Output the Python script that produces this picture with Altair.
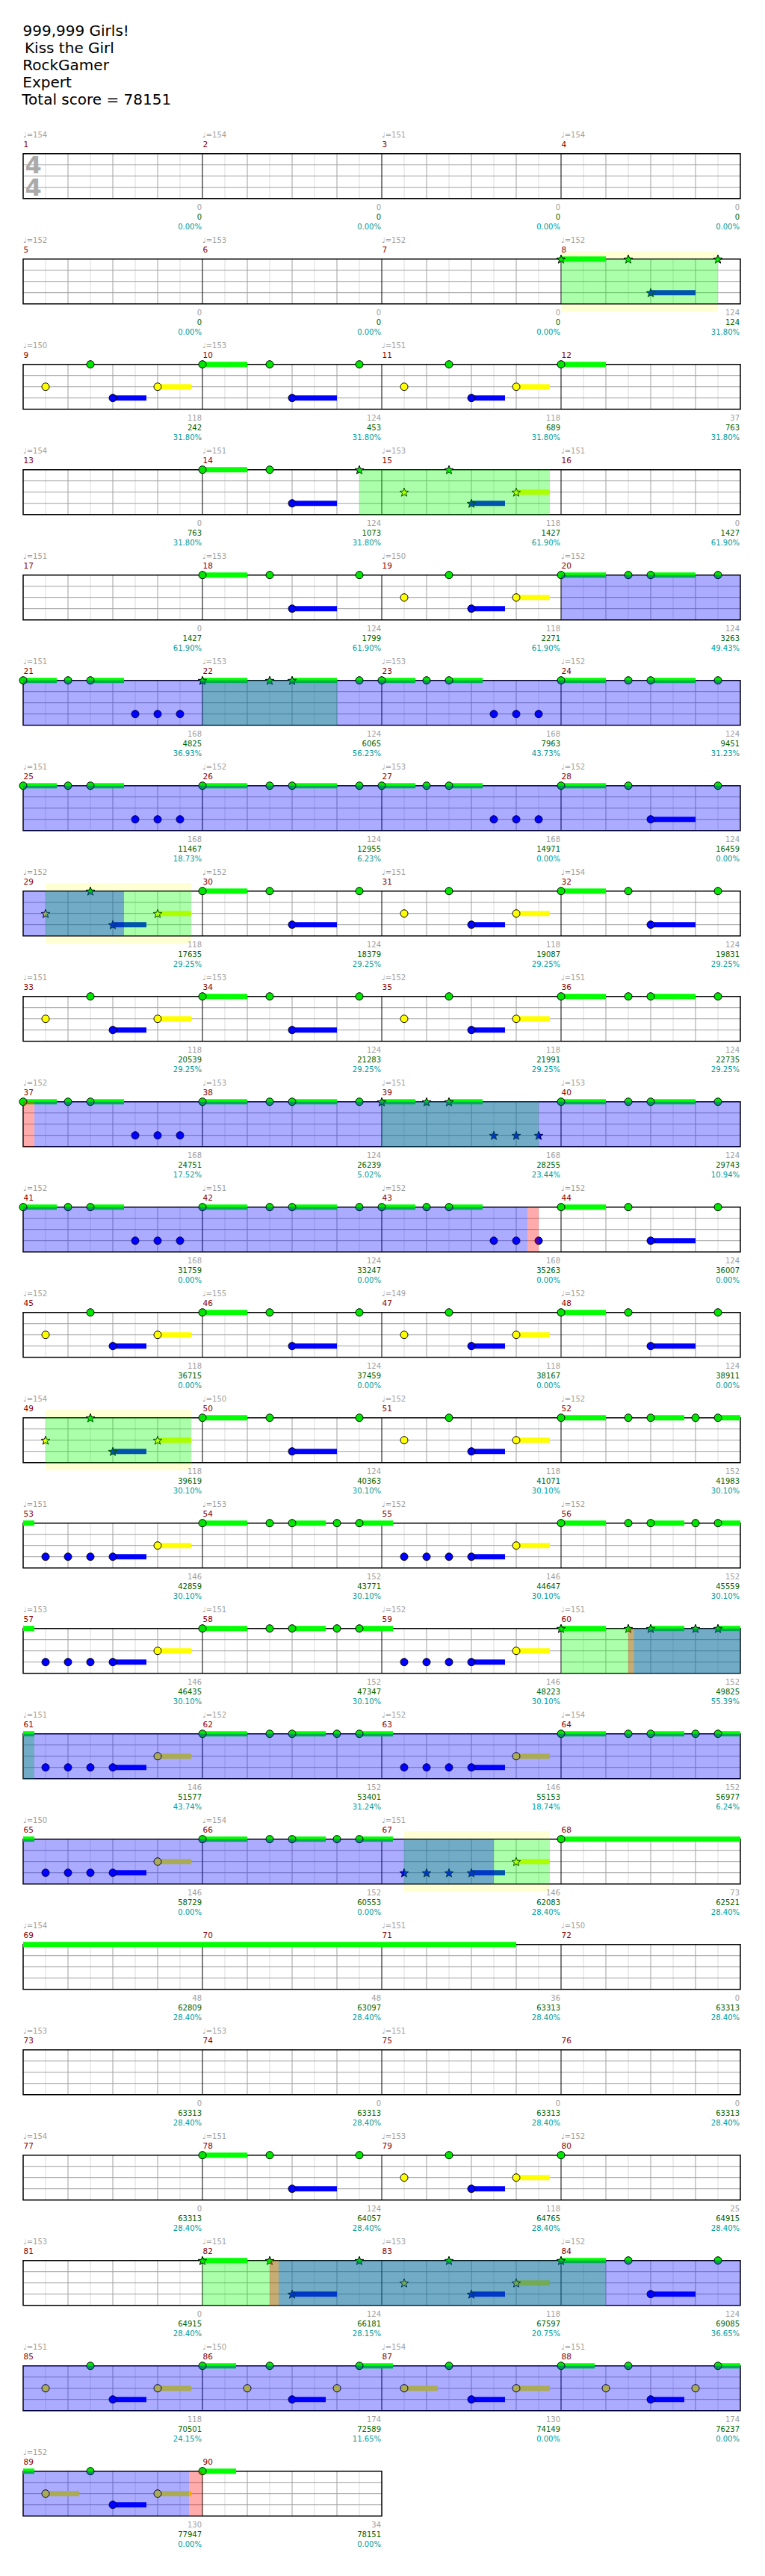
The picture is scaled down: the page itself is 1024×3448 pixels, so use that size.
import math
import altair as alt
import pandas as pd

# ---------------- data ----------------
TITLE_LINES = ["999,999 Girls!", "Kiss the Girl", "RockGamer", "Expert", "Total score = 78151"]
TITLE_DX_PX = [-0.5, 2.0, -0.7, -0.7, -1.7]

TEMPO = [154, 154, 151, 154, 152, 153, 152, 152, 150, 153, 151, None,
         154, 151, 153, 151, 151, 153, 150, 152, 151, 153, 153, 152,
         151, 152, 153, 152, 152, 152, 151, 154, 151, 153, 152, 151,
         152, 153, 151, 153, 152, 151, 152, 152, 152, 155, 149, 152,
         154, 150, 152, 152, 151, 153, 152, 152, 153, 151, 152, 151,
         151, 152, 152, 154, 150, 154, 151, None, 154, None, 151, 150,
         153, 153, 151, None, 154, 151, 153, 152, 153, 151, 153, 152,
         151, 150, 154, 151, 152, None]

MEASURE_SCORE = [0, 0, 0, 0, 0, 0, 0, 124, 118, 124, 118, 37,
                 0, 124, 118, 0, 0, 124, 118, 124, 168, 124, 168, 124,
                 168, 124, 168, 124, 118, 124, 118, 124, 118, 124, 118, 124,
                 168, 124, 168, 124, 168, 124, 168, 124, 118, 124, 118, 124,
                 118, 124, 118, 152, 146, 152, 146, 152, 146, 152, 146, 152,
                 146, 152, 146, 152, 146, 152, 146, 73, 48, 48, 36, 0,
                 0, 0, 0, 0, 0, 124, 118, 25, 0, 124, 118, 124,
                 118, 174, 130, 174, 130, 34]

TOTAL_SCORE = [0, 0, 0, 0, 0, 0, 0, 124, 242, 453, 689, 763,
               763, 1073, 1427, 1427, 1427, 1799, 2271, 3263, 4825, 6065, 7963, 9451,
               11467, 12955, 14971, 16459, 17635, 18379, 19087, 19831, 20539, 21283, 21991, 22735,
               24751, 26239, 28255, 29743, 31759, 33247, 35263, 36007, 36715, 37459, 38167, 38911,
               39619, 40363, 41071, 41983, 42859, 43771, 44647, 45559, 46435, 47347, 48223, 49825,
               51577, 53401, 55153, 56977, 58729, 60553, 62083, 62521, 62809, 63097, 63313, 63313,
               63313, 63313, 63313, 63313, 63313, 64057, 64765, 64915, 64915, 66181, 67597, 69085,
               70501, 72589, 74149, 76237, 77947, 78151]

METER = ["0.00%", "0.00%", "0.00%", "0.00%", "0.00%", "0.00%", "0.00%", "31.80%",
         "31.80%", "31.80%", "31.80%", "31.80%", "31.80%", "31.80%", "61.90%", "61.90%",
         "61.90%", "61.90%", "61.90%", "49.43%", "36.93%", "56.23%", "43.73%", "31.23%",
         "18.73%", "6.23%", "0.00%", "0.00%", "29.25%", "29.25%", "29.25%", "29.25%",
         "29.25%", "29.25%", "29.25%", "29.25%", "17.52%", "5.02%", "23.44%", "10.94%",
         "0.00%", "0.00%", "0.00%", "0.00%", "0.00%", "0.00%", "0.00%", "0.00%",
         "30.10%", "30.10%", "30.10%", "30.10%", "30.10%", "30.10%", "30.10%", "30.10%",
         "30.10%", "30.10%", "30.10%", "55.39%", "43.74%", "31.24%", "18.74%", "6.24%",
         "0.00%", "0.00%", "28.40%", "28.40%", "28.40%", "28.40%", "28.40%", "28.40%",
         "28.40%", "28.40%", "28.40%", "28.40%", "28.40%", "28.40%", "28.40%", "28.40%",
         "28.40%", "28.15%", "20.75%", "36.65%", "24.15%", "11.65%", "0.00%", "0.00%",
         "0.00%", "0.00%"]

# note patterns: (beat in measure, fret, sustain length in beats)
PA = [(0.5, "Y", 0), (1.5, "G", 0), (2, "B", 0.75), (3, "Y", 0.75)]
PB = [(0, "G", 1), (1.5, "G", 0), (2, "B", 1), (3.5, "G", 0)]
PC = [(0, "G", 1), (1.5, "G", 0), (2, "G", 1), (3.5, "G", 0)]
PD = [(0, "G", 0.75), (1, "G", 0), (1.5, "G", 0.75), (2.5, "B", 0), (3, "B", 0), (3.5, "B", 0)]
PE = [(0, "G", 1), (1.5, "G", 0), (2, "G", 0.75), (3, "G", 0), (3.5, "G", 0.75)]
PF = [(0.5, "B", 0), (1, "B", 0), (1.5, "B", 0), (2, "B", 0.75), (3, "Y", 0.75)]
PG = [(0, "G", 0.75), (1, "Y", 0), (1.5, "G", 0), (2, "B", 0.75), (3, "Y", 0), (3.5, "G", 0.75)]
PH = [(0.5, "Y", 0.75), (1.5, "G", 0), (2, "B", 0.75), (3, "Y", 0.75)]

MEASURE_NOTES = {
    8: PB, 9: PA, 10: PB, 11: PA, 12: [(0, "G", 1)],
    14: PB, 15: PA, 18: PB, 19: PA, 20: PC,
    21: PD, 22: PC, 23: PD, 24: PC, 25: PD, 26: PC, 27: PD, 28: PB,
    29: PA, 30: PB, 31: PA, 32: PB, 33: PA, 34: PB, 35: PA, 36: PC,
    37: PD, 38: PC, 39: PD, 40: PC, 41: PD, 42: PC, 43: PD, 44: PB,
    45: PA, 46: PB, 47: PA, 48: PB, 49: PA, 50: PB, 51: PA, 52: PE,
    53: PF, 54: PE, 55: PF, 56: PE, 57: PF, 58: PE, 59: PF, 60: PE,
    61: PF, 62: PE, 63: PF, 64: PE, 65: PF, 66: PE, 67: PF, 68: [(0, "G", 15)],
    78: PB, 79: PA, 80: [(0, "G", 0)], 82: PB, 83: PA, 84: PB,
    85: PA, 86: PG, 87: PH, 88: PG, 89: PH, 90: [(0, "G", 0.75)],
}

# star power phrases: (measure, beat) -> (measure, beat), framed?
PHRASES = [(8, 0, 8, 3.5, True), (14, 3.5, 15, 3.75, False), (22, 0, 22, 3, False),
           (29, 0.5, 29, 3.75, True), (39, 0, 39, 3.5, False), (49, 0.5, 49, 3.75, True),
           (60, 0, 61, 0.25, False), (67, 0.5, 67, 3.75, True), (82, 0, 84, 1, False)]
OVERDRIVE = [(20, 0, 29, 2.25), (37, 0.25, 43, 3.25), (60, 1.625, 67, 2.5), (82, 1.7, 89, 3.7)]
RED_ZONES = [(37, 0, 37, 0.25), (43, 3.25, 43, 3.5), (60, 1.5, 60, 1.625),
             (82, 1.5, 82, 1.7), (89, 3.7, 90, 0)]

N_MEASURES = 90

# ---------------- layout ----------------
H = 3420
ROW_STEP = 141
TOP0 = 197.7
LANE = 15
STAFF_H = 60
PX_BEAT = 60
LANE_OF = {"G": 0, "R": 1, "Y": 2, "B": 3, "O": 4}
NOTE_COL = {"G": "#00e600", "Y": "#ffff00", "B": "#0000ff"}
SUS_COL = {"G": "#00ff00", "Y": "#ffff00", "B": "#0000ff"}

# five-point star symbol in the unit box [-1, 1]
_pts = []
for k in range(10):
    rad = 1.0 if k % 2 == 0 else 0.42
    ang = math.radians(-90 + 36 * k)
    _pts.append(f"{rad * math.cos(ang):.3f},{rad * math.sin(ang) + 0.1:.3f}")
STAR_PATH = "M" + " L".join(_pts) + " Z"


def gbeat(m, b):
    return (m - 1) * 4 + b


def top(r):
    return TOP0 + r * ROW_STEP


def split_rows(g0, g1):
    out = []
    g = g0
    while g < g1 - 1e-9:
        r = int(g // 16)
        end = min(g1, (r + 1) * 16)
        out.append((r, g - 16 * r, end - 16 * r))
        g = end
    return out


n_rows = (N_MEASURES + 3) // 4

staff = []
half_lines, beat_lines, bar_lines, lane_lines = [], [], [], []
for r in range(n_rows):
    nm = min(4, N_MEASURES - 4 * r)
    nb = nm * 4
    t = top(r)
    staff.append({"x": 0, "x2": nb, "y": t, "y2": t + STAFF_H})
    for k in range(1, nb * 2):
        rec = {"x": k / 2, "y": t, "y2": t + STAFF_H}
        if k % 8 == 0:
            bar_lines.append(rec)
        elif k % 2 == 0:
            beat_lines.append(rec)
        else:
            half_lines.append(rec)
    for ln in (1, 2, 3):
        lane_lines.append({"x": 0, "x2": nb, "y": t + ln * LANE})
staff = pd.DataFrame(staff)

phr_g = [(gbeat(a, b), gbeat(c, d)) for a, b, c, d, _ in PHRASES]

notes, sustains = [], []
for m, pat in MEASURE_NOTES.items():
    for b, fret, sus in pat:
        g = gbeat(m, b)
        r = int(g // 16)
        y = top(r) + LANE_OF[fret] * LANE
        star = any(s - 1e-6 <= g <= e + 1e-6 for s, e in phr_g)
        notes.append({"x": g - 16 * r, "y": y, "fret": fret, "star": star})
        if sus > 0:
            for rr, a, e in split_rows(g, g + sus):
                yy = top(rr) + LANE_OF[fret] * LANE
                sustains.append({"x": a, "x2": e, "y": yy - 3.5, "y2": yy + 3.5,
                                 "fill": SUS_COL[fret]})
notes = pd.DataFrame(notes)
sustains = pd.DataFrame(sustains)


def zone_df(spans, pad=0.0):
    rows_ = []
    for g0, g1 in spans:
        for r, a, e in split_rows(g0, g1):
            rows_.append({"x": a, "x2": e, "y": top(r) - pad, "y2": top(r) + STAFF_H + pad})
    return pd.DataFrame(rows_)


frames = zone_df([(gbeat(a, b), gbeat(c, d)) for a, b, c, d, f in PHRASES if f], pad=10.5)
green_z = zone_df(phr_g)
blue_z = zone_df([(gbeat(a, b), gbeat(c, d)) for a, b, c, d in OVERDRIVE])
red_z = zone_df([(gbeat(a, b), gbeat(c, d)) for a, b, c, d in RED_ZONES])

tempo_t, num_t, lab_t = [], [], []
for i in range(N_MEASURES):
    m = i + 1
    r, c = i // 4, i % 4
    t = top(r)
    if TEMPO[i] is not None:
        tempo_t.append({"x": c * 4, "y": t - 24.7, "label": "\u2669=" + str(TEMPO[i])})
    num_t.append({"x": c * 4, "y": t - 11.7, "label": str(m)})
    lab_t.append({"x": c * 4 + 4, "y": t + 72.3, "label": str(MEASURE_SCORE[i]), "col": "#a0a0a0"})
    lab_t.append({"x": c * 4 + 4, "y": t + 85.3, "label": str(TOTAL_SCORE[i]), "col": "#006400"})
    lab_t.append({"x": c * 4 + 4, "y": t + 98.3, "label": METER[i], "col": "#009c9c"})
tempo_t = pd.DataFrame(tempo_t)
num_t = pd.DataFrame(num_t)
lab_t = pd.DataFrame(lab_t)

title_t = pd.DataFrame({"x": [d / PX_BEAT for d in TITLE_DX_PX],
                        "y": [33.8 + 23 * i for i in range(len(TITLE_LINES))],
                        "label": TITLE_LINES})
timesig = pd.DataFrame({"x": [13.5 / PX_BEAT] * 2, "y": [top(0) + LANE, top(0) + 3 * LANE],
                        "label": ["4", "4"]})

# ---------------- chart ----------------
xs = alt.Scale(domain=[0, 16], nice=False, zero=False)
ys = alt.Scale(domain=[0, H], reverse=True, nice=False, zero=False)


def X(f="x"):
    return alt.X(f, type="quantitative", scale=xs, axis=None)


def Y(f="y"):
    return alt.Y(f, type="quantitative", scale=ys, axis=None)


def rect_layer(df, **kw):
    return alt.Chart(df).mark_rect(**kw).encode(x=X(), x2="x2", y=Y(), y2="y2")


def text_layer(df, **kw):
    return alt.Chart(df).mark_text(**kw).encode(x=X(), y=Y(), text=alt.Text("label:N"))


layers = [
    rect_layer(frames, color="#ffffd4"),
    rect_layer(staff, color="white"),
    alt.Chart(pd.DataFrame(half_lines)).mark_rule(color="#dcdcdc", strokeWidth=1).encode(x=X(), y=Y(), y2="y2"),
    alt.Chart(pd.DataFrame(beat_lines)).mark_rule(color="#a0a0a0", strokeWidth=1).encode(x=X(), y=Y(), y2="y2"),
    alt.Chart(pd.DataFrame(lane_lines)).mark_rule(color="#a0a0a0", strokeWidth=1).encode(x=X(), x2="x2", y=Y()),
    alt.Chart(pd.DataFrame(bar_lines)).mark_rule(color="black", strokeWidth=1).encode(x=X(), y=Y(), y2="y2"),
    rect_layer(staff, fillOpacity=0, stroke="black", strokeWidth=1.5),
    text_layer(timesig, font="DejaVu Sans", fontSize=32, fontWeight="bold", color="#aaaaaa",
               align="center", baseline="middle", dy=1),
    alt.Chart(sustains).mark_rect().encode(x=X(), x2="x2", y=Y(), y2="y2",
                                           color=alt.Color("fill:N", scale=None)),
]

for fret in ["G", "Y", "B"]:
    for is_star in (False, True):
        sub = notes[(notes["fret"] == fret) & (notes["star"] == is_star)][["x", "y"]]
        if len(sub) == 0:
            continue
        layers.append(
            alt.Chart(sub).mark_point(
                shape=STAR_PATH if is_star else "circle",
                size=150 if is_star else 100,
                filled=True, fill=NOTE_COL[fret], opacity=1,
                stroke="black", strokeWidth=1,
            ).encode(x=X(), y=Y())
        )

layers += [
    rect_layer(green_z, color="#00ff00", opacity=0.33),
    rect_layer(blue_z, color="#0000ff", opacity=0.33),
    rect_layer(red_z, color="#ff0000", opacity=0.33),
    text_layer(tempo_t, font="DejaVu Sans", fontSize=10, color="#a0a0a0", align="left",
               baseline="middle"),
    text_layer(num_t, font="DejaVu Sans", fontSize=10.5, color="#8b0000", align="left",
               baseline="middle", dx=0.5),
    alt.Chart(lab_t).mark_text(font="DejaVu Sans", fontSize=10, align="right",
                               baseline="middle", dx=-1).encode(
        x=X(), y=Y(), text=alt.Text("label:N"), color=alt.Color("col:N", scale=None)),
    text_layer(title_t, font="DejaVu Sans", fontSize=20, color="black", align="left",
               baseline="middle"),
]

chart = alt.layer(*layers).properties(
    width=960, height=H,
    autosize=alt.AutoSizeParams(type="none"),
    padding={"left": 23, "top": 0, "right": 10, "bottom": 0},
).configure_view(stroke=None)

chart.save("out.html", embed_options={"renderer": "svg", "actions": False})
